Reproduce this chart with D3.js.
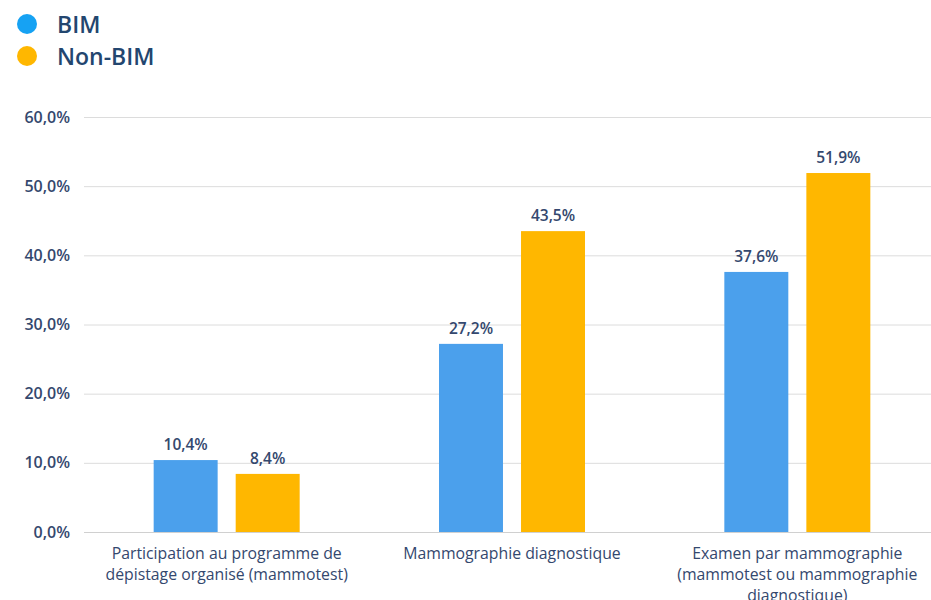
<!DOCTYPE html>
<html><head><meta charset="utf-8">
<script src="https://cdn.jsdelivr.net/npm/d3@7"></script>
<style>body{margin:0;background:#fff}svg{display:block;font-family:"Open Sans",Lato,sans-serif}</style>
</head><body><svg id="c" width="931" height="600"></svg>
<script>
const categories = [
  ["Participation au programme de","dépistage organisé (mammotest)"],
  ["Mammographie diagnostique"],
  ["Examen par mammographie","(mammotest ou mammographie","diagnostique)"]
];
const seriesNames = ["BIM","Non-BIM"];
const bimValues = [10.4, 27.2, 37.6];
const nonBimValues = [8.4, 43.5, 51.9];
const yTicks = [0,10,20,30,40,50,60];
const colors = {"BIM":"#4ba0ec","Non-BIM":"#ffb700"};
const legendColors = {"BIM":"#16a2f3","Non-BIM":"#ffb700"};

const svg = d3.select("#c");
const textCol = "#34486e";
const fmt = v => v.toFixed(1).replace(".", ",") + "%";

const y = d3.scaleLinear().domain([0,60]).range([532,117]);
const x0 = d3.scaleBand().domain(d3.range(categories.length)).range([84,940]);
const x1 = d3.scaleBand().domain(seriesNames).range([-73,73]).paddingInner(0.22);

// gridlines
svg.append("g").selectAll("line").data(yTicks).join("line")
  .attr("x1",84).attr("x2",931).attr("y1",d=>y(d)+0.5).attr("y2",d=>y(d)+0.5)
  .attr("stroke",d=>d===0?"#d0d0d0":"#dcdcdc").attr("stroke-width",1);

// y labels
svg.append("g").selectAll("text").data(yTicks).join("text")
  .attr("x",70).attr("y",d=>y(d)+5.5).attr("text-anchor","end")
  .attr("font-size",16).attr("font-weight",600).attr("fill",textCol)
  .text(d=>fmt(d));

const data = [];
categories.forEach((c,i)=>{
  data.push({cat:i, s:"BIM", v:bimValues[i]});
  data.push({cat:i, s:"Non-BIM", v:nonBimValues[i]});
});

const bx = d => x0(d.cat) + x0.bandwidth()/2 + x1(d.s);
svg.append("g").selectAll("rect").data(data).join("rect")
  .attr("x",bx).attr("width",x1.bandwidth())
  .attr("y",d=>y(d.v)).attr("height",d=>y(0)-y(d.v))
  .attr("fill",d=>colors[d.s]);

svg.append("g").selectAll("text").data(data).join("text")
  .attr("x",d=>bx(d)+x1.bandwidth()/2).attr("y",d=>y(d.v)-10)
  .attr("text-anchor","middle").attr("font-size",15.5).attr("font-weight",600)
  .attr("fill",textCol).text(d=>fmt(d.v));

// category labels
const cg = svg.append("g").selectAll("text").data(categories).join("text")
  .attr("text-anchor","middle").attr("font-size",15.8).attr("fill",textCol)
  .attr("x",(d,i)=>x0(i)+x0.bandwidth()/2).attr("y",559);
cg.selectAll("tspan").data(d=>d).join("tspan")
  .attr("x",function(){return this.parentNode.getAttribute("x");})
  .attr("dy",(d,i)=>i===0?0:21).text(d=>d);

// legend
const lg = svg.append("g").selectAll("g").data(seriesNames).join("g")
  .attr("transform",(d,i)=>`translate(0,${24+i*32})`);
lg.append("circle").attr("cx",27).attr("cy",0).attr("r",10).attr("fill",d=>legendColors[d]);
lg.append("text").attr("x",57).attr("y",8.5).attr("font-size",23).attr("font-weight",600)
  .attr("fill","#23466f").text(d=>d);
</script></body></html>
